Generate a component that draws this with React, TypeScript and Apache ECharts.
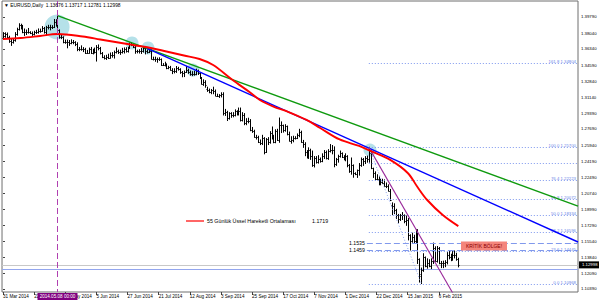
import React, { useEffect, useRef } from "react";
import * as echarts from "echarts";

// ---------- data ----------
const dateLabels = ["31 Mar 2014", "22 Apr 2014", "14 May 2014", "5 Jun 2014", "27 Jun 2014", "21 Jul 2014", "12 Aug 2014", "3 Sep 2014", "25 Sep 2014", "17 Oct 2014", "7 Nov 2014", "1 Dec 2014", "22 Dec 2014", "15 Jan 2015", "6 Feb 2015"];
const dateLabelIdx = [0, 16, 32, 48, 64, 80, 96, 112, 128, 144, 160, 176, 192, 208, 224];
const priceTicks = [1.1039, 1.1209, 1.1384, 1.1554, 1.1729, 1.1899, 1.2074, 1.2249, 1.2419, 1.2594, 1.2769, 1.2939, 1.3114, 1.3284, 1.3459, 1.3634, 1.3804, 1.3979];

const opens = [
  1.3752, 1.3769, 1.3794, 1.3766, 1.3715, 1.3704, 1.3732, 1.3792, 1.3852, 1.3888,
  1.3886, 1.3817, 1.3814, 1.3818, 1.3815, 1.3810, 1.3795, 1.3814, 1.3815, 1.3830,
  1.3830, 1.3857, 1.3813, 1.3867, 1.3870, 1.3872, 1.3874, 1.3928, 1.3907, 1.3837,
  1.3758, 1.3759, 1.3708, 1.3710, 1.3710, 1.3697, 1.3712, 1.3704, 1.3687, 1.3628,
  1.3631, 1.3636, 1.3636, 1.3595, 1.3593, 1.3634, 1.3592, 1.3627, 1.3596, 1.3660,
  1.3642, 1.3590, 1.3550, 1.3537, 1.3545, 1.3540, 1.3570, 1.3565, 1.3600, 1.3611,
  1.3606, 1.3604, 1.3610, 1.3634, 1.3614, 1.3647, 1.3692, 1.3677, 1.3658, 1.3615,
  1.3607, 1.3615, 1.3615, 1.3639, 1.3613, 1.3604, 1.3610, 1.3530, 1.3525, 1.3525,
  1.3525, 1.3520, 1.3464, 1.3464, 1.3463, 1.3429, 1.3438, 1.3410, 1.3395, 1.3390,
  1.3430, 1.3414, 1.3380, 1.3374, 1.3383, 1.3411, 1.3382, 1.3366, 1.3364, 1.3364,
  1.3400, 1.3369, 1.3318, 1.3259, 1.3276, 1.3205, 1.3192, 1.3169, 1.3190, 1.3180,
  1.3130, 1.3130, 1.3133, 1.3147, 1.2946, 1.2950, 1.2890, 1.2941, 1.2917, 1.2925,
  1.2960, 1.2950, 1.2958, 1.2862, 1.2922, 1.2828, 1.2850, 1.2855, 1.2760, 1.2750,
  1.2683, 1.2686, 1.2630, 1.2620, 1.2670, 1.2518, 1.2658, 1.2626, 1.2730, 1.2690,
  1.2630, 1.2750, 1.2650, 1.2815, 1.2810, 1.2760, 1.2800, 1.2713, 1.2643, 1.2650,
  1.2670, 1.2675, 1.2700, 1.2735, 1.2630, 1.2610, 1.2525, 1.2485, 1.2545, 1.2480,
  1.2375, 1.2450, 1.2410, 1.2440, 1.2420, 1.2475, 1.2525, 1.2450, 1.2530, 1.2545,
  1.2540, 1.2390, 1.2440, 1.2475, 1.2505, 1.2470, 1.2450, 1.2475, 1.2380, 1.2310,
  1.2375, 1.2290, 1.2285, 1.2320, 1.2380, 1.2445, 1.2420, 1.2460, 1.2440, 1.2505,
  1.2345, 1.2293, 1.2226, 1.2230, 1.2176, 1.2200, 1.2180, 1.2150, 1.2155, 1.2098,
  1.1950, 1.1935, 1.1890, 1.1835, 1.1794, 1.1842, 1.1834, 1.1772, 1.1787, 1.1625,
  1.1562, 1.1604, 1.1553, 1.1608, 1.1365, 1.1180, 1.1240, 1.1380, 1.1290, 1.1320,
  1.1290, 1.1345, 1.1480, 1.1345, 1.1478, 1.1317, 1.1322, 1.1325, 1.1335, 1.1405,
  1.1390, 1.1370, 1.1410, 1.1410, 1.13676,
];
const highs = [
  1.3810, 1.3808, 1.3806, 1.3771, 1.3739, 1.3740, 1.3810, 1.3858, 1.3906, 1.3901,
  1.3888, 1.3849, 1.3838, 1.3855, 1.3820, 1.3817, 1.3825, 1.3835, 1.3850, 1.3848,
  1.3875, 1.3866, 1.3878, 1.3889, 1.3890, 1.3885, 1.3952, 1.3950, 1.3993, 1.3840,
  1.3783, 1.3765, 1.3730, 1.3730, 1.3725, 1.3732, 1.3725, 1.3712, 1.3700, 1.3650,
  1.3667, 1.3648, 1.3640, 1.3618, 1.3643, 1.3650, 1.3630, 1.3643, 1.3670, 1.3677,
  1.3650, 1.3595, 1.3560, 1.3565, 1.3577, 1.3590, 1.3594, 1.3610, 1.3645, 1.3621,
  1.3620, 1.3640, 1.3645, 1.3647, 1.3652, 1.3698, 1.3701, 1.3692, 1.3675, 1.3620,
  1.3625, 1.3638, 1.3655, 1.3650, 1.3622, 1.3630, 1.3625, 1.3545, 1.3545, 1.3535,
  1.3538, 1.3525, 1.3475, 1.3490, 1.3472, 1.3446, 1.3445, 1.3420, 1.3420, 1.3444,
  1.3435, 1.3420, 1.3390, 1.3395, 1.3445, 1.3415, 1.3395, 1.3388, 1.3393, 1.3415,
  1.3404, 1.3375, 1.3325, 1.3300, 1.3290, 1.3220, 1.3200, 1.3195, 1.3220, 1.3190,
  1.3145, 1.3140, 1.3160, 1.3160, 1.2980, 1.2960, 1.2945, 1.2945, 1.2945, 1.2975,
  1.2965, 1.2995, 1.2995, 1.2945, 1.2935, 1.2880, 1.2885, 1.2870, 1.2785, 1.2755,
  1.2700, 1.2690, 1.2650, 1.2700, 1.2675, 1.2665, 1.2675, 1.2740, 1.2790, 1.2700,
  1.2760, 1.2765, 1.2887, 1.2845, 1.2810, 1.2815, 1.2800, 1.2735, 1.2685, 1.2690,
  1.2685, 1.2715, 1.2765, 1.2745, 1.2645, 1.2620, 1.2535, 1.2565, 1.2550, 1.2530,
  1.2470, 1.2470, 1.2480, 1.2455, 1.2500, 1.2535, 1.2530, 1.2545, 1.2600, 1.2590,
  1.2575, 1.2450, 1.2485, 1.2530, 1.2510, 1.2480, 1.2500, 1.2480, 1.2385, 1.2455,
  1.2380, 1.2295, 1.2325, 1.2395, 1.2455, 1.2450, 1.2470, 1.2475, 1.2570, 1.2530,
  1.2345, 1.2305, 1.2274, 1.2250, 1.2225, 1.2225, 1.2218, 1.2185, 1.2165, 1.2115,
  1.1970, 1.1960, 1.1900, 1.1845, 1.1845, 1.1865, 1.1840, 1.1828, 1.1800, 1.1625,
  1.1642, 1.1620, 1.1680, 1.1680, 1.1365, 1.1265, 1.1420, 1.1385, 1.1365, 1.1355,
  1.1365, 1.1535, 1.1495, 1.1498, 1.1488, 1.1337, 1.1340, 1.1345, 1.1432, 1.1450,
  1.1415, 1.1445, 1.1450, 1.1425, 1.13717,
];
const lows = [
  1.3740, 1.3760, 1.3752, 1.3705, 1.3672, 1.3697, 1.3718, 1.3782, 1.3838, 1.3850,
  1.3809, 1.3780, 1.3790, 1.3805, 1.3800, 1.3780, 1.3785, 1.3800, 1.3805, 1.3815,
  1.3825, 1.3805, 1.3790, 1.3850, 1.3840, 1.3855, 1.3865, 1.3880, 1.3830, 1.3750,
  1.3745, 1.3700, 1.3695, 1.3646, 1.3672, 1.3690, 1.3690, 1.3670, 1.3615, 1.3615,
  1.3620, 1.3605, 1.3585, 1.3587, 1.3588, 1.3585, 1.3580, 1.3590, 1.3503, 1.3624,
  1.3580, 1.3540, 1.3525, 1.3520, 1.3530, 1.3535, 1.3545, 1.3535, 1.3590, 1.3585,
  1.3575, 1.3590, 1.3590, 1.3600, 1.3600, 1.3640, 1.3670, 1.3650, 1.3587, 1.3592,
  1.3590, 1.3585, 1.3600, 1.3580, 1.3590, 1.3595, 1.3525, 1.3515, 1.3500, 1.3490,
  1.3510, 1.3455, 1.3455, 1.3450, 1.3420, 1.3420, 1.3405, 1.3367, 1.3375, 1.3380,
  1.3405, 1.3370, 1.3333, 1.3335, 1.3380, 1.3370, 1.3350, 1.3345, 1.3350, 1.3355,
  1.3358, 1.3315, 1.3255, 1.3240, 1.3220, 1.3175, 1.3160, 1.3150, 1.3150, 1.3130,
  1.3120, 1.3110, 1.3115, 1.2920, 1.2915, 1.2860, 1.2875, 1.2895, 1.2900, 1.2910,
  1.2920, 1.2920, 1.2855, 1.2855, 1.2815, 1.2815, 1.2835, 1.2750, 1.2732, 1.2680,
  1.2660, 1.2622, 1.2600, 1.2600, 1.2500, 1.2515, 1.2600, 1.2615, 1.2660, 1.2620,
  1.2620, 1.2645, 1.2625, 1.2730, 1.2735, 1.2745, 1.2705, 1.2640, 1.2615, 1.2630,
  1.2660, 1.2665, 1.2685, 1.2625, 1.2570, 1.2480, 1.2455, 1.2450, 1.2440, 1.2365,
  1.2358, 1.2400, 1.2400, 1.2410, 1.2415, 1.2450, 1.2445, 1.2440, 1.2520, 1.2500,
  1.2360, 1.2375, 1.2410, 1.2465, 1.2460, 1.2435, 1.2425, 1.2360, 1.2300, 1.2280,
  1.2247, 1.2275, 1.2245, 1.2270, 1.2365, 1.2375, 1.2395, 1.2410, 1.2410, 1.2340,
  1.2245, 1.2220, 1.2220, 1.2165, 1.2165, 1.2180, 1.2150, 1.2135, 1.2100, 1.1995,
  1.1843, 1.1855, 1.1800, 1.1755, 1.1780, 1.1790, 1.1755, 1.1727, 1.1570, 1.1460,
  1.1545, 1.1538, 1.1540, 1.1315, 1.1114, 1.1098, 1.1230, 1.1280, 1.1264, 1.1280,
  1.1260, 1.1315, 1.1340, 1.1330, 1.1312, 1.1270, 1.1270, 1.1280, 1.1310, 1.1365,
  1.1345, 1.1350, 1.1375, 1.1350, 1.12781,
];
const closes = [
  1.3769, 1.3794, 1.3766, 1.3715, 1.3704, 1.3732, 1.3792, 1.3852, 1.3888, 1.3886,
  1.3817, 1.3814, 1.3818, 1.3815, 1.3810, 1.3795, 1.3814, 1.3815, 1.3830, 1.3830,
  1.3857, 1.3813, 1.3867, 1.3870, 1.3872, 1.3874, 1.3928, 1.3907, 1.3837, 1.3758,
  1.3759, 1.3708, 1.3710, 1.3710, 1.3697, 1.3712, 1.3704, 1.3687, 1.3628, 1.3631,
  1.3636, 1.3636, 1.3595, 1.3593, 1.3634, 1.3592, 1.3627, 1.3596, 1.3660, 1.3642,
  1.3590, 1.3550, 1.3537, 1.3545, 1.3540, 1.3570, 1.3565, 1.3600, 1.3611, 1.3606,
  1.3604, 1.3610, 1.3634, 1.3614, 1.3647, 1.3692, 1.3677, 1.3658, 1.3615, 1.3607,
  1.3615, 1.3615, 1.3639, 1.3613, 1.3604, 1.3610, 1.3530, 1.3525, 1.3525, 1.3525,
  1.3520, 1.3464, 1.3464, 1.3463, 1.3429, 1.3438, 1.3410, 1.3395, 1.3390, 1.3430,
  1.3414, 1.3380, 1.3374, 1.3383, 1.3411, 1.3382, 1.3366, 1.3364, 1.3364, 1.3400,
  1.3369, 1.3318, 1.3259, 1.3276, 1.3242, 1.3192, 1.3169, 1.3190, 1.3180, 1.3130,
  1.3130, 1.3133, 1.3147, 1.2946, 1.2950, 1.2890, 1.2941, 1.2917, 1.2925, 1.2960,
  1.2950, 1.2958, 1.2862, 1.2922, 1.2828, 1.2850, 1.2855, 1.2760, 1.2750, 1.2683,
  1.2686, 1.2630, 1.2620, 1.2670, 1.2518, 1.2658, 1.2626, 1.2730, 1.2690, 1.2630,
  1.2750, 1.2650, 1.2815, 1.2810, 1.2760, 1.2800, 1.2713, 1.2643, 1.2650, 1.2670,
  1.2675, 1.2700, 1.2735, 1.2630, 1.2610, 1.2525, 1.2485, 1.2545, 1.2480, 1.2375,
  1.2450, 1.2410, 1.2440, 1.2420, 1.2475, 1.2525, 1.2450, 1.2530, 1.2545, 1.2540,
  1.2390, 1.2440, 1.2475, 1.2505, 1.2470, 1.2450, 1.2475, 1.2380, 1.2310, 1.2375,
  1.2290, 1.2285, 1.2320, 1.2380, 1.2445, 1.2420, 1.2460, 1.2440, 1.2505, 1.2345,
  1.2293, 1.2226, 1.2230, 1.2176, 1.2195, 1.2180, 1.2150, 1.2155, 1.2100, 1.2000,
  1.1935, 1.1890, 1.1835, 1.1794, 1.1842, 1.1834, 1.1772, 1.1787, 1.1625, 1.1562,
  1.1604, 1.1553, 1.1608, 1.1365, 1.1205, 1.1240, 1.1380, 1.1290, 1.1320, 1.1290,
  1.1345, 1.1480, 1.1345, 1.1478, 1.1317, 1.1322, 1.1325, 1.1335, 1.1405, 1.1390,
  1.1370, 1.1410, 1.1410, 1.1367, 1.12998,
];

const emaIdx = [0, 9, 19, 28, 41, 50, 67, 76, 84, 93, 101, 108, 118, 127, 132, 139, 146, 156, 163, 173, 183, 190, 199, 208, 213, 218, 226, 234];
const emaVal = [1.3741, 1.3752, 1.3774, 1.3795, 1.3768, 1.3736, 1.3676, 1.3644, 1.3606, 1.3563, 1.3525, 1.3460, 1.3298, 1.3163, 1.3082, 1.3011, 1.2958, 1.2866, 1.2779, 1.2655, 1.2585, 1.2520, 1.2434, 1.2293, 1.2141, 1.2001, 1.1839, 1.1719];

// trend lines: [startIdx, startPrice, endIdx, endPrice]
const greenLine = [28, 1.3993, 295.5, 1.1935];
const blueLine = [74, 1.3640, 295.5, 1.1547];
const purpleLine = [188, 1.2570, 234, 1.0890];
const fibDiagonal = [188, 1.2570, 215, 1.10968];

// Fibonacci retracement levels
const fibStartIdx = 188;
const fibLabels = ["0.0 1.10968", "23.6 1.14445", "38.2 1.16596", "50.0 1.18334", "61.8 1.20072", "76.4 1.22223", "", "100.0 1.25700", "161.8 1.34804"];
const fibPrices = [1.10968, 1.14445, 1.16596, 1.18334, 1.20072, 1.22223, 1.23961, 1.25700, 1.34804];

// dashed horizontal levels
const levelPrices = [1.1535, 1.1459];
const levelLabels = ["1.1535", "1.1459"];
const levelStartIdx = 187;

// highlight circles: [idx, price, radius px]
const circleIdx = [27.8, 66.3, 74.5, 97.6, 188.6];
const circlePrice = [1.3871, 1.3698, 1.3644, 1.3406, 1.2541];
const circleRadius = [12.5, 6.5, 6.5, 6.5, 6.5];

const markerIdx = 28;
const markerLabel = "2014.05.08 00:00";
const bidPrice = 1.12998;
const supportPrice = 1.1252;
const emaLegend = "55 Günlük Üssel Hareketli Ortalaması";
const emaLast = "1.1719";
const titleText = "▼ EURUSD,Daily  1.13676 1.13717 1.12781 1.12998";

const Y_MIN = 1.10065;
const Y_MAX = 1.41519;
const X_MIN = -0.5;
const X_MAX = 295.5;
const FONT = '"Liberation Sans", Arial, sans-serif';

function lineSeries(seg: number[], color: string, width: number, dash?: any, z = 5) {
  return {
    type: "line",
    data: [[seg[0], seg[1]], [seg[2], seg[3]]],
    symbol: "none",
    silent: true,
    clip: true,
    z,
    lineStyle: { color, width, type: dash || "solid" },
  };
}

export default function App() {
  const ref = useRef<HTMLDivElement>(null);
  useEffect(() => {
    const chart = echarts.init(ref.current!, null, { renderer: "svg" });
    const bars = opens.map((o, i) => [i, o, highs[i], lows[i], closes[i]]);
    const option: any = {
      animation: false,
      backgroundColor: "#ffffff",
      grid: { left: 2, right: 22, top: 1, bottom: 10, show: true, borderColor: "#6e6e6e", borderWidth: 1, backgroundColor: "#ffffff" },
      xAxis: {
        type: "value", min: X_MIN, max: X_MAX,
        axisLine: { show: false }, splitLine: { show: false },
        axisTick: { show: true, customValues: dateLabelIdx, length: 3, lineStyle: { color: "#444" } },
        axisLabel: {
          customValues: dateLabelIdx, align: "left", margin: 2, fontSize: 4.6, fontFamily: FONT, color: "#000",
          formatter: (v: number) => dateLabels[dateLabelIdx.indexOf(Math.round(v))] || "",
        },
      },
      yAxis: {
        type: "value", position: "right", min: Y_MIN, max: Y_MAX,
        axisLine: { show: false }, splitLine: { show: false },
        axisTick: { show: true, customValues: priceTicks, length: 2, lineStyle: { color: "#444" } },
        axisLabel: { customValues: priceTicks, margin: 3, fontSize: 4.3, fontFamily: FONT, color: "#000", formatter: (v: number) => v.toFixed(5) },
      },
      graphic: [
        { type: "text", left: 4, top: 3, z: 100, style: { text: titleText, fill: "#000", font: `4.9px ${FONT}` } },
        { type: "line", z: 100, shape: { x1: 186, y1: 221, x2: 204, y2: 221 }, style: { stroke: "#ff0000", lineWidth: 1.2 } },
        { type: "text", z: 100, x: 207, y: 221, style: { text: emaLegend, fill: "#000", font: `5.3px ${FONT}`, verticalAlign: "middle" } },
        { type: "text", z: 100, x: 312, y: 221, style: { text: emaLast, fill: "#000", font: `5.3px ${FONT}`, verticalAlign: "middle" } },
        { type: "rect", z: 100, shape: { x: 461, y: 241.5, width: 46, height: 9 }, style: { fill: "#f4857c" } },
        { type: "text", z: 101, x: 484, y: 246, style: { text: "KRİTİK BÖLGE!", fill: "#8b0000", font: `5px ${FONT}`, align: "center", verticalAlign: "middle" } },
      ],
      series: [
        // highlight circles
        {
          type: "custom", z: 2, silent: true,
          data: circleIdx.map((x, i) => [x, circlePrice[i], circleRadius[i]]),
          encode: { x: 0, y: 1 },
          renderItem: (params: any, api: any) => {
            const p = api.coord([api.value(0), api.value(1)]);
            return { type: "circle", shape: { cx: p[0], cy: p[1], r: api.value(2) }, style: { fill: "rgba(120,200,215,0.55)" } };
          },
        },
        // OHLC bars
        {
          type: "custom", z: 3, silent: true,
          data: bars,
          encode: { x: 0, y: [1, 2, 3, 4] },
          renderItem: (params: any, api: any) => {
            const i = api.value(0);
            const o = api.coord([i, api.value(1)]);
            const h = api.coord([i, api.value(2)]);
            const l = api.coord([i, api.value(3)]);
            const c = api.coord([i, api.value(4)]);
            const x = Math.round(o[0]) + 0.5;
            const st = { stroke: "#000", lineWidth: 1 };
            return {
              type: "group",
              children: [
                { type: "line", shape: { x1: x, y1: h[1] - 0.5, x2: x, y2: l[1] + 0.5 }, style: st },
                { type: "line", shape: { x1: x - 1, y1: Math.round(o[1]) + 0.5, x2: x, y2: Math.round(o[1]) + 0.5 }, style: st },
                { type: "line", shape: { x1: x, y1: Math.round(c[1]) + 0.5, x2: x + 1, y2: Math.round(c[1]) + 0.5 }, style: st },
              ],
            };
          },
        },
        // bid line and support line
        {
          type: "custom", z: 1, silent: true,
          data: [[X_MIN, bidPrice], [X_MIN, supportPrice]],
          encode: { x: 0, y: 1 },
          renderItem: (params: any, api: any) => {
            const cs = params.coordSys;
            const p = api.coord([X_MIN, api.value(1)]);
            const y = Math.round(p[1]) + 0.5;
            const color = params.dataIndex === 0 ? "#c8c8c8" : "#93a6ee";
            return { type: "line", shape: { x1: cs.x, y1: y, x2: cs.x + cs.width, y2: y }, style: { stroke: color, lineWidth: 1 } };
          },
        },
        // fibonacci levels
        {
          type: "custom", z: 4, silent: true,
          data: fibPrices.map((p) => [fibStartIdx, p]),
          encode: { x: 0, y: 1 },
          renderItem: (params: any, api: any) => {
            const cs = params.coordSys;
            const p = api.coord([fibStartIdx, api.value(1)]);
            const xr = cs.x + cs.width;
            const y = Math.round(p[1]) + 0.5;
            const txt = fibLabels[params.dataIndex];
            const children: any[] = [
              { type: "line", shape: { x1: p[0], y1: y, x2: xr, y2: y }, style: { stroke: "#7d97ee", lineWidth: 1, lineDash: [1, 2] } },
            ];
            if (txt) children.push({ type: "text", x: xr - 2, y: y - 0.5, style: { text: txt, fill: "#6a86e8", font: `4.3px ${FONT}`, align: "right", verticalAlign: "bottom" } });
            return { type: "group", children };
          },
        },
        // dashed levels with left labels
        {
          type: "custom", z: 4, silent: true,
          data: levelPrices.map((p) => [levelStartIdx, p]),
          encode: { x: 0, y: 1 },
          renderItem: (params: any, api: any) => {
            const cs = params.coordSys;
            const p = api.coord([levelStartIdx, api.value(1)]);
            const y = Math.round(p[1]) + 0.5;
            return {
              type: "group",
              children: [
                { type: "line", shape: { x1: p[0], y1: y, x2: cs.x + cs.width, y2: y }, style: { stroke: "#8199ec", lineWidth: 1, lineDash: [6, 3] } },
                { type: "text", x: p[0] - 2, y: y - 0.5, style: { text: levelLabels[params.dataIndex], fill: "#000", font: `5.2px ${FONT}`, align: "right", verticalAlign: "middle" } },
              ],
            };
          },
        },
        lineSeries(fibDiagonal, "#8aa2ee", 1, [1, 2], 4),
        lineSeries(greenLine, "#0f9a0f", 1.4, undefined, 6),
        lineSeries(blueLine, "#0000ff", 1.4, undefined, 6),
        lineSeries(purpleLine, "#9a2a9a", 1.1, undefined, 6),
        // EMA 55
        {
          type: "line", z: 7, silent: true, symbol: "none", smooth: 0.35,
          data: emaIdx.map((x, i) => [x, emaVal[i]]),
          lineStyle: { color: "#ff0000", width: 1.9 },
        },
        // vertical marker line and its time label
        {
          type: "custom", z: 8, silent: true,
          data: [[markerIdx, Y_MIN]],
          encode: { x: 0, y: 1 },
          renderItem: (params: any, api: any) => {
            const cs = params.coordSys;
            const p = api.coord([api.value(0), api.value(1)]);
            const x = Math.round(p[0]) + 0.5;
            return {
              type: "group",
              children: [
                { type: "line", shape: { x1: x, y1: cs.y, x2: x, y2: cs.y + cs.height }, style: { stroke: "#b040b0", lineWidth: 1, lineDash: [6, 3] } },
                { type: "rect", shape: { x: x - 20, y: cs.y + cs.height + 1, width: 40, height: 7 }, style: { fill: "#800080" } },
                { type: "text", x: x, y: cs.y + cs.height + 4.6, style: { text: markerLabel, fill: "#fff", font: `4.6px ${FONT}`, align: "center", verticalAlign: "middle" } },
              ],
            };
          },
        },
        // current price box on the price scale
        {
          type: "custom", z: 9, silent: true,
          data: [[X_MAX, bidPrice]],
          encode: { x: 0, y: 1 },
          renderItem: (params: any, api: any) => {
            const cs = params.coordSys;
            const p = api.coord([api.value(0), api.value(1)]);
            const x0 = cs.x + cs.width + 1;
            return {
              type: "group",
              children: [
                { type: "rect", shape: { x: x0, y: p[1] - 3.5, width: 20, height: 7 }, style: { fill: "#000" } },
                { type: "text", x: x0 + 3, y: p[1], style: { text: bidPrice.toFixed(5), fill: "#fff", font: `4.3px ${FONT}`, verticalAlign: "middle" } },
              ],
            };
          },
        },
      ],
    };
    chart.setOption(option);
    return () => chart.dispose();
  }, []);
  return <div ref={ref} style={{ position: "fixed", left: 0, top: 0, width: 600, height: 302, background: "#fff" }} />;
}
